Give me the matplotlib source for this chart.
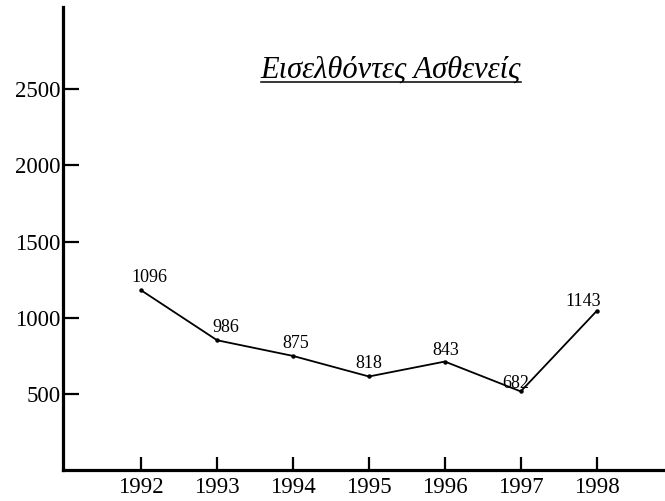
import matplotlib
matplotlib.use('Agg')
import matplotlib.pyplot as plt
from matplotlib.lines import Line2D

# data
years = [1992, 1993, 1994, 1995, 1996, 1997, 1998]
# plotted heights (as drawn in the picture)
patients = [1180, 852, 749, 614, 712, 516, 1044]
# numbers printed next to the points
point_labels = ['1096', '986', '875', '818', '843', '682', '1143']
title = 'Εισελθόντες Ασθενείς'
y_ticks = [500, 1000, 1500, 2000, 2500]

# label offsets in points (dx, dy)
label_offsets = [(6, 9), (6, 9), (2, 9), (0, 9), (1, 8), (-4, 6), (-10, 7)]

plt.rcParams['font.family'] = ['Liberation Serif', 'DejaVu Serif']

fig = plt.figure(figsize=(6.65, 5.01), dpi=100)
ax = fig.add_axes([0.0947, 0.0619, 0.9053, 0.924])

ax.plot(years, patients, color='black', lw=1.3, marker='o', markersize=2.2)

for x, y, txt, (dx, dy) in zip(years, patients, point_labels, label_offsets):
    ax.annotate(txt, (x, y), xytext=(dx, dy), textcoords='offset points',
                ha='center', va='center', fontsize=13)

ax.set_xlim(1990.97, 1998.9)
ax.set_ylim(0, 3040)
ax.set_xticks(years)
ax.set_xticklabels([str(y) for y in years])
ax.set_yticks(y_ticks)

for side in ['top', 'right']:
    ax.spines[side].set_visible(False)
for side in ['left', 'bottom']:
    ax.spines[side].set_linewidth(2.3)

ax.tick_params(axis='y', direction='in', length=11.5, width=1.6, pad=2, labelsize=16.5)
ax.tick_params(axis='x', direction='in', length=9.4, width=1.6, pad=5, labelsize=16.5)

# underlined title
base_y = 1 - 78 / 501
t = fig.text(391 / 665, base_y, title, ha='center', va='baseline',
             fontsize=22, style='italic')
fig.canvas.draw()
bb = t.get_window_extent()
uy = base_y - 3.5 / 501
fig.lines.append(Line2D([bb.x0 / 665, bb.x1 / 665], [uy, uy],
                        transform=fig.transFigure, color='black', lw=1.1))

fig.savefig('out.png', dpi=100)
